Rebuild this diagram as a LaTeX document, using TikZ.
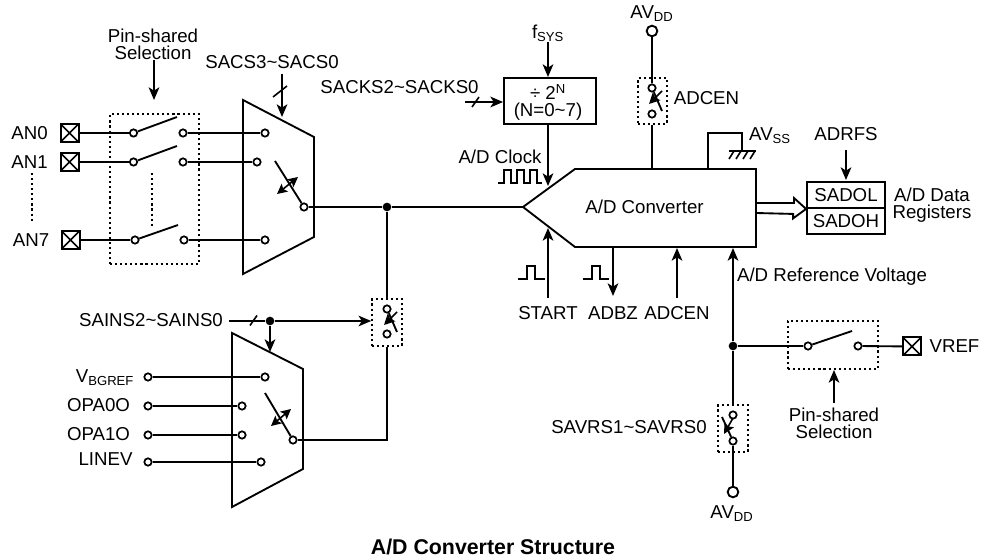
\documentclass[tikz,border=0pt]{standalone}
\usepackage{fontspec}
\setmainfont{Liberation Sans}
\usepackage{xcolor}
\usepackage{tikz}
\usetikzlibrary{shapes, arrows.meta, positioning, calc}

\begin{document}
\begin{tikzpicture}[
    x=0.75pt, y=-0.75pt,
    every node/.style={font=\fontsize{14}{13}\selectfont, inner sep=0pt, align=center},
    wire/.style={line width=1.4pt, line join=miter},
    arrow/.style={-{Stealth[length=9.5pt, width=8pt, inset=2.5pt]}, line width=1.4pt},
    ctrl/.style={{Stealth[length=7.5pt, width=7.5pt, inset=1.5pt]}-{Stealth[length=7.5pt, width=7.5pt, inset=1.5pt]}, line width=1.2pt},
    swctrl/.style={-{Stealth[length=8pt, width=8pt, inset=1.5pt]}, line width=1.2pt},
    tick/.style={line width=1.2pt},
    term/.style={circle, draw=black, fill=white, line width=1.3pt, minimum size=5.5pt},
    rail/.style={circle, draw=black, fill=white, line width=1.4pt, minimum size=8pt},
    joint/.style={circle, fill=black, minimum size=6.5pt},
    pin/.style={rectangle, draw=black, line width=1.5pt, minimum size=13.5pt,
        path picture={\draw[line width=1.2pt] (path picture bounding box.north west) -- (path picture bounding box.south east)
            (path picture bounding box.north east) -- (path picture bounding box.south west);}},
    dotbox/.style={rectangle, draw=black, line width=1.2pt, dash pattern=on 1.6pt off 2.2pt},
    plainbox/.style={rectangle, draw=black, line width=1.4pt},
    dotline/.style={line width=1.2pt, dash pattern=on 1.6pt off 2.2pt}
]
\useasboundingbox (0,0) rectangle (982,559);

% Input pins and pin-shared switches
\node (lan0) at (29.5,133) {AN0};
\node (lan1) at (29.5,162) {AN1};
\node (lan7) at (31,240) {AN7};
\node[pin] (an0) at (69.5,133) {};
\node[pin] (an1) at (69.5,162) {};
\node[pin] (an7) at (70.5,240) {};
\node[dotbox, minimum width=66.75pt, minimum height=112.5pt] (psel1) at (154.5,189) {};
\node[term] (sw0a) at (133.5,133) {};
\node[term] (sw1a) at (133.5,162) {};
\node[term] (sw7a) at (135,240) {};
\node[term] (sw0b) at (183,133) {};
\node[term] (sw1b) at (183,162) {};
\node[term] (sw7b) at (184,240) {};
\coordinate (bl0) at (177,117);
\coordinate (bl1) at (177,146);
\coordinate (bl7) at (178,225);
\draw[wire] (an0) -- (sw0a);
\draw[wire] (an1) -- (sw1a);
\draw[wire] (an7) -- (sw7a);
\draw[wire] (sw0a) -- (bl0);
\draw[wire] (sw1a) -- (bl1);
\draw[wire] (sw7a) -- (bl7);
\draw[dotline] (32,173) -- (32,223);
\draw[dotline] (152,173) -- (152,227);

\node (lpsel1) at (153,44) {Pin-shared\\Selection};
\draw[arrow] (154,60) -- (154,100);

% Upper multiplexer
\draw[wire] (243,100) -- (314,137) -- (314,237) -- (243,274) -- cycle;
\node (lsacs) at (272,62) {SACS3\textasciitilde SACS0};
\draw[arrow] (282,74) -- (282,117);
\draw[tick] (273,97) -- (287,86);
\node[term] (mx0) at (265,133) {};
\node[term] (mx1) at (257,162) {};
\node[term] (mx7) at (265,240) {};
\draw[wire] (sw0b) -- (mx0);
\draw[wire] (sw1b) -- (mx1);
\draw[wire] (sw7b) -- (mx7);
\node[term] (wip1) at (304,207) {};
\coordinate (wipb1) at (275,161);
\draw[wire] (wip1) -- (wipb1);
\draw[ctrl] (277,194) -- (298,177);

% A/D converter body
\coordinate (adctip) at (523,207);
\coordinate (adcE) at (756,208);
\draw[wire] (adctip) -- (575,169) -- (756,169) -- (756,247) -- (575,247) -- cycle;
\node (ladc) at (644.5,207) {A/D Converter};
\node[joint] (dot1) at (387,207) {};
\draw[wire] (wip1) -- (dot1);
\draw[wire] (dot1) -- (adctip);

% Input switch to the main line
\node[dotbox, minimum width=22.5pt, minimum height=35.25pt] (swin) at (387,322.5) {};
\node[term] (swina) at (387,309) {};
\node[term] (swinb) at (387,334) {};
\coordinate (swinc) at (397,332);
\draw[wire] (swina) -- (swinc);
\draw[swctrl] (397,312) -- (384,325);
\draw[wire] (dot1) -- (swin.north);

% Lower multiplexer
\node (lsains) at (151,320) {SAINS2\textasciitilde SAINS0};
\coordinate (sains) at (229,321);
\node[joint] (dot2) at (270,321) {};
\draw[wire] (sains) -- (dot2);
\draw[tick] (250,325.5) -- (257,315.5);
\draw[arrow] (dot2) -- (dot2 -| swin.west);
\coordinate (mx2top) at (270,352);
\draw[arrow] (dot2) -- (mx2top);
\draw[wire] (232,333) -- (303,369) -- (303,469) -- (232,507) -- cycle;
\node (lvbg) at (105,378) {V\textsubscript{BGREF}};
\node (lopa0) at (98.5,405) {OPA0O};
\node (lopa1) at (98.5,434) {OPA1O};
\node (lline) at (105.5,459) {LINEV};
\node[term] (vbga) at (148,377) {};
\node[term] (opa0a) at (148,406) {};
\node[term] (opa1a) at (148,435) {};
\node[term] (linea) at (148,462) {};
\node[term] (vbgb) at (265,377) {};
\node[term] (opa0b) at (242,406) {};
\node[term] (opa1b) at (242,435) {};
\node[term] (lineb) at (261,462) {};
\draw[wire] (vbga) -- (vbgb);
\draw[wire] (opa0a) -- (opa0b);
\draw[wire] (opa1a) -- (opa1b);
\draw[wire] (linea) -- (lineb);
\node[term] (wip2) at (293,440) {};
\coordinate (wipb2) at (265,393);
\draw[wire] (wip2) -- (wipb2);
\draw[ctrl] (271,426) -- (291,409);
\draw[wire] (swin.south) |- (wip2);

% Clock divider
\node (lfsys) at (548,33) {f\textsubscript{SYS}};
\node[plainbox, minimum width=69pt, minimum height=34.5pt] (div) at (550,101) {};
\node at (548,92) {÷ 2\textsuperscript{N}};
\node at (548,112) {(N=0\textasciitilde 7)};
\draw[arrow] (548,42) -- (548,77);
\node (lsacks) at (399.5,87) {SACKS2\textasciitilde SACKS0};
\coordinate (sacks) at (465,102);
\draw[arrow] (sacks) -- (sacks -| div.west);
\draw[tick] (472,107) -- (479,97);
\node (lclk) at (500,157) {A/D Clock};
\draw[arrow] (548,124) -- (548,186);
\draw[wire] (498,183) -- (504,183) -- (504,170) -- (511,170) -- (511,183) -- (517,183) -- (517,170) -- (524,170) -- (524,183) -- (530,183) -- (530,170) -- (537,170) -- (537,183) -- (542,183);

% ADC enable from supply
\node (lavdd1) at (652,14) {AV\textsubscript{DD}};
\node[rail] (avdd1) at (652,31) {};
\node[dotbox, minimum width=21.75pt, minimum height=34.5pt] (swen) at (652.5,101) {};
\node[term] (swena) at (652,88) {};
\node[term] (swenb) at (652,114) {};
\coordinate (swenc) at (662,111);
\coordinate (adctop) at (652,169);
\draw[wire] (avdd1) -- (swena);
\draw[wire] (swena) -- (swenc);
\draw[swctrl] (662,91) -- (649,104);
\draw[wire] (swen.south -| adctop) -- (adctop);
\node (ladcen1) at (706.5,98) {ADCEN};

% Ground
\node (lavss) at (770,136) {AV\textsubscript{SS}};
\draw[wire] (708,169) -- (708,133) -- (742,133) -- (742,151);
\draw[wire] (729,151) -- (756,151);
\draw[tick] (729,159) -- (734,151) (736,159) -- (741,151) (743,159) -- (748,151) (750,159) -- (755,151);

% Data registers
\node[plainbox, minimum width=58.5pt, minimum height=19.5pt] (sadol) at (846,195) {SADOL};
\node[plainbox, minimum width=58.5pt, minimum height=19.5pt] (sadoh) at (846,221) {SADOH};
\node (ladrfs) at (846,134) {ADRFS};
\draw[arrow] (846,150) -- (846,180);
\node (lregs) at (932,205) {A/D Data\\Registers};
\draw[wire] ($(adcE)+(0,-5)$) -- ++(38,0) -- ++(0,-5) -- (sadol.south west) -- ++(-13,9.5) -- ++(0,-4.5) -- ($(adcE)+(0,5)$);

% Control inputs below the converter
\node (lstart) at (548,313) {START};
\node (ladbz) at (613,313) {ADBZ};
\node (ladcen2) at (677,313) {ADCEN};
\draw[arrow] (548,298) -- (548,228);
\draw[arrow] (613,247) -- (613,296);
\draw[arrow] (677,298) -- (677,248);
\draw[wire] (518,279) -- (527,279) -- (527,266) -- (535,266) -- (535,279) -- (545,279);
\draw[wire] (583,279) -- (592,279) -- (592,266) -- (600,266) -- (600,279) -- (609,279);

% Reference voltage
\node (lref) at (832,277) {A/D Reference Voltage};
\node[joint] (dot3) at (733,346) {};
\coordinate (adcref) at (733,248);
\draw[arrow] (dot3) -- (adcref);
\node[dotbox, minimum width=67.5pt, minimum height=36pt] (psel2) at (833,345) {};
\node[term] (swra) at (808,346) {};
\node[term] (swrb) at (858,346) {};
\coordinate (blr) at (852,331);
\node[pin, minimum size=13.5pt] (vref) at (912,346.5) {};
\node (lvref) at (954.5,346) {VREF};
\draw[wire] (dot3) -- (swra);
\draw[wire] (swra) -- (blr);
\draw[wire] (swrb) -- (vref);
\draw[arrow] (834,403) -- (834,370);
\node (lpsel2) at (834,423.5) {Pin-shared\\Selection};

% Reference select switch
\node (lsavrs) at (629,427) {SAVRS1\textasciitilde SAVRS0};
\node[dotbox, minimum width=22.5pt, minimum height=35.25pt] (swrf) at (733,428.5) {};
\node[term] (swrfa) at (733,415) {};
\node[term] (swrfb) at (733,441) {};
\coordinate (swrfc) at (722,417);
\draw[wire] (swrfb) -- (swrfc);
\draw[swctrl] (733,418) -- (724,434);
\draw[wire] (dot3) -- (swrf.north);
\node[rail] (avdd2) at (733,492) {};
\node (lavdd2) at (732,514) {AV\textsubscript{DD}};
\draw[wire] (swrfb) -- (avdd2);

% Title
\node[font=\fontsize{16}{16}\selectfont\bfseries] (title) at (493,546.5) {A/D Converter Structure};

\end{tikzpicture}
\end{document}
